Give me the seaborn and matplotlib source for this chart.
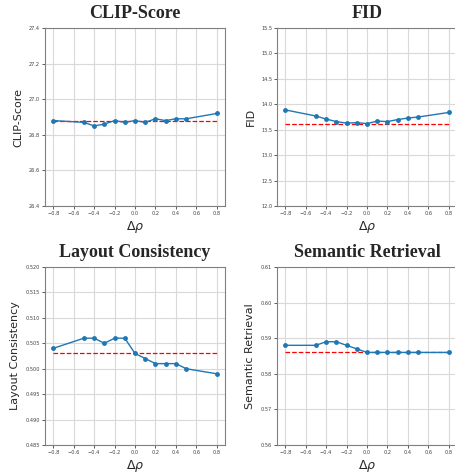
import numpy as np
import pandas as pd
import matplotlib
matplotlib.use('Agg')
import matplotlib.pyplot as plt
import seaborn as sns

# delta rho values (x axis)
delta_rho = [-0.8, -0.5, -0.4, -0.3, -0.2, -0.1, 0.0, 0.1, 0.2, 0.3, 0.4, 0.5, 0.8]

# metric values
clip_score = [26.88, 26.87, 26.85, 26.86, 26.88, 26.87, 26.88, 26.87, 26.89, 26.88, 26.89, 26.89, 26.92]
fid = [13.89, 13.77, 13.71, 13.66, 13.63, 13.64, 13.62, 13.67, 13.66, 13.70, 13.73, 13.75, 13.84]
layout_consistency = [0.504, 0.506, 0.506, 0.505, 0.506, 0.506, 0.503, 0.502, 0.501, 0.501, 0.501, 0.500, 0.499]
semantic_retrieval = [0.588, 0.588, 0.589, 0.589, 0.588, 0.587, 0.586, 0.586, 0.586, 0.586, 0.586, 0.586, 0.586]

# baselines (red dashed)
baselines = [26.88, 13.62, 0.503, 0.586]

titles = ['CLIP-Score', 'FID', 'Layout Consistency', 'Semantic Retrieval']
ylims = [(26.4, 27.4), (12.0, 15.5), (0.485, 0.520), (0.56, 0.61)]
ysteps = [0.2, 0.5, 0.005, 0.01]
yfmts = ['%.1f', '%.1f', '%.3f', '%.2f']

sns.set_style('whitegrid')
plt.rcParams['font.family'] = ['DejaVu Sans']

fig = plt.figure(figsize=(4.56, 4.75), dpi=100)
w, h = 0.3947, 0.3747
boxes = [(0.0987, 0.5663), (0.6075, 0.5663), (0.0987, 0.0632), (0.6075, 0.0632)]
series = [clip_score, fid, layout_consistency, semantic_retrieval]

for i in range(4):
    ax = fig.add_axes([boxes[i][0], boxes[i][1], w, h])
    df = pd.DataFrame({'x': delta_rho, 'y': series[i]})
    sns.lineplot(data=df, x='x', y='y', marker='o', markersize=3.5, color='#1f77b4',
                 linewidth=1.0, markeredgewidth=0, ax=ax, zorder=3)
    ax.plot([delta_rho[0], delta_rho[-1]], [baselines[i], baselines[i]], '--', color='red',
            linewidth=0.9, zorder=2)
    ax.set_ylim(*ylims[i])
    lo, hi = ylims[i]
    ax.set_yticks(np.arange(lo, hi + ysteps[i] / 2, ysteps[i]))
    ax.yaxis.set_major_formatter(matplotlib.ticker.FormatStrFormatter(yfmts[i]))
    ax.set_xticks(np.arange(-0.8, 0.81, 0.2))
    ax.set_xlim(-0.88, 0.88)
    ax.set_title(titles[i], fontsize=13, fontweight='bold', family='Liberation Serif', pad=7)
    ax.set_ylabel(titles[i], fontsize=8)
    ax.set_xlabel(r'$\Delta\rho$', fontsize=9, labelpad=2)
    ax.tick_params(axis='both', labelsize=3.6, colors='0.25', length=2, width=0.6,
                   left=True, bottom=True, pad=1.5)
    ax.grid(True, color='0.85', linewidth=0.8)
    for s in ax.spines.values():
        s.set_color('0.5')
        s.set_linewidth(0.8)

fig.savefig('out.png', dpi=100)
